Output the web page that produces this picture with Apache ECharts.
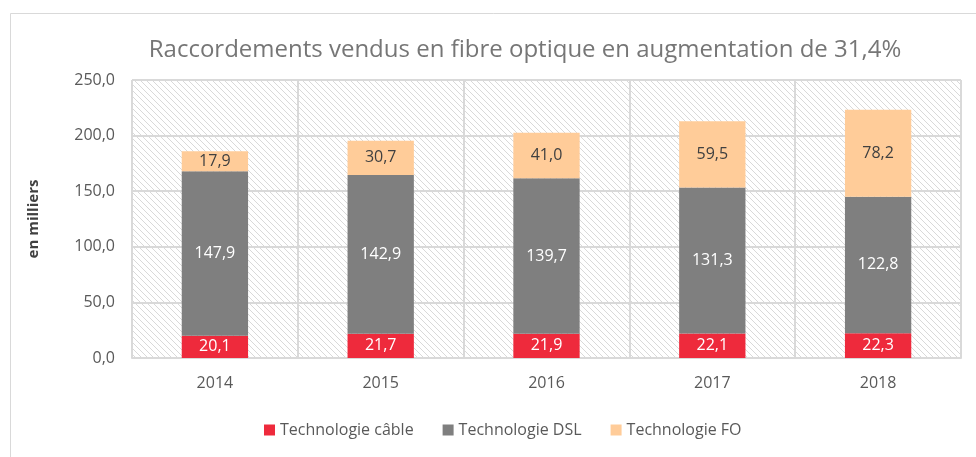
<!DOCTYPE html>
<html>
<head>
<meta charset="utf-8">
<script src="https://cdn.jsdelivr.net/npm/echarts@6/dist/echarts.min.js"></script>
<style>
    html, body { margin: 0; padding: 0; background: #fff; }
    #chart { width: 976px; height: 457px; }
</style>
</head>
<body>
<div id="chart"></div>
<script>
// années
const years = ['2014', '2015', '2016', '2017', '2018'];
// séries (en milliers)
const cableValues = [20.1, 21.7, 21.9, 22.1, 22.3];
const dslValues = [147.9, 142.9, 139.7, 131.3, 122.8];
const foValues = [17.9, 30.7, 41.0, 59.5, 78.2];

const fmt = v => v.toFixed(1).replace('.', ',');

// motif hachuré du fond de la zone de tracé
function makeHatch() {
    const c = document.createElement('canvas');
    c.width = 6;
    c.height = 6;
    const ctx = c.getContext('2d');
    ctx.fillStyle = '#ffffff';
    ctx.fillRect(0, 0, 6, 6);
    ctx.strokeStyle = '#d9d9d9';
    ctx.lineWidth = 1;
    ctx.beginPath();
    ctx.moveTo(-1, -1); ctx.lineTo(7, 7);
    ctx.moveTo(-4, 2); ctx.lineTo(4, 10);
    ctx.moveTo(2, -4); ctx.lineTo(10, 4);
    ctx.stroke();
    return c;
}

const font = '"Open Sans", "Noto Sans", sans-serif';

function barSeries(name, data, color, labelColor) {
    return {
        name: name,
        type: 'bar',
        stack: 'total',
        data: data,
        barWidth: '40%',
        itemStyle: { color: color },
        label: {
            show: true,
            position: 'inside',
            color: labelColor,
            fontFamily: font,
            fontSize: 16,
            formatter: p => fmt(p.value)
        }
    };
}

const chart = echarts.init(document.getElementById('chart'));
chart.setOption({
    backgroundColor: '#fff',
    animation: false,
    textStyle: { fontFamily: font },
    graphic: [{
        type: 'rect',
        left: 8,
        top: 11,
        shape: { width: 1000, height: 500 },
        style: { fill: 'none', stroke: '#d9d9d9', lineWidth: 1 },
        silent: true,
        z: -1
    }],
    title: {
        text: 'Raccordements vendus en fibre optique en augmentation de 31,4%',
        left: 520,
        textAlign: 'center',
        top: 33,
        textStyle: {
            fontFamily: font,
            fontWeight: 'normal',
            fontSize: 24,
            color: '#767676'
        }
    },
    legend: {
        bottom: 14,
        left: 259,
        itemWidth: 11,
        itemHeight: 11,
        itemGap: 29,
        icon: 'rect',
        textStyle: { fontFamily: font, fontSize: 16, color: '#595959' },
        data: ['Technologie câble', 'Technologie DSL', 'Technologie FO']
    },
    grid: {
        left: 132,
        right: 15,
        top: 80,
        bottom: 99,
        show: true,
        borderColor: '#d9d9d9',
        borderWidth: 1,
        backgroundColor: { image: makeHatch(), repeat: 'repeat' }
    },
    xAxis: {
        type: 'category',
        data: years,
        axisTick: { show: false },
        axisLine: { lineStyle: { color: '#d9d9d9', width: 2 } },
        axisLabel: { color: '#595959', fontSize: 16, margin: 17, fontFamily: font },
        splitLine: { show: true, lineStyle: { color: '#d9d9d9', width: 2 } }
    },
    yAxis: {
        type: 'value',
        min: 0,
        max: 250,
        interval: 50,
        name: 'en milliers',
        nameLocation: 'middle',
        nameGap: 91,
        nameTextStyle: { fontFamily: font, fontWeight: 'bold', fontSize: 15, color: '#404040' },
        axisLabel: { color: '#595959', fontSize: 16, margin: 17, fontFamily: font, formatter: v => fmt(v) },
        axisLine: { show: false },
        axisTick: { show: false },
        splitLine: { lineStyle: { color: '#d9d9d9', width: 2 } }
    },
    series: [
        barSeries('Technologie câble', cableValues, '#ee2a3c', '#ffffff'),
        barSeries('Technologie DSL', dslValues, '#7f7f7f', '#ffffff'),
        barSeries('Technologie FO', foValues, '#ffcc99', '#404040')
    ]
});
</script>
</body>
</html>
